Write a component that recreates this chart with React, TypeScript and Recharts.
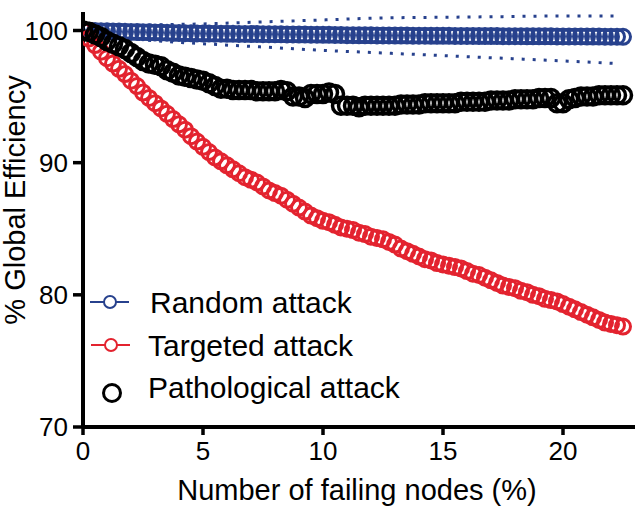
import { ComposedChart, Line, XAxis, YAxis } from "recharts";

// % of failing nodes, one reading every 0.25 %
const FAILING = [
  0, 0.25, 0.5, 0.75, 1, 1.25, 1.5, 1.75, 2, 2.25,
  2.5, 2.75, 3, 3.25, 3.5, 3.75, 4, 4.25, 4.5, 4.75,
  5, 5.25, 5.5, 5.75, 6, 6.25, 6.5, 6.75, 7, 7.25,
  7.5, 7.75, 8, 8.25, 8.5, 8.75, 9, 9.25, 9.5, 9.75,
  10, 10.25, 10.5, 10.75, 11, 11.25, 11.5, 11.75, 12, 12.25,
  12.5, 12.75, 13, 13.25, 13.5, 13.75, 14, 14.25, 14.5, 14.75,
  15, 15.25, 15.5, 15.75, 16, 16.25, 16.5, 16.75, 17, 17.25,
  17.5, 17.75, 18, 18.25, 18.5, 18.75, 19, 19.25, 19.5, 19.75,
  20, 20.25, 20.5, 20.75, 21, 21.25, 21.5, 21.75, 22, 22.25,
  22.5,
];

const RANDOM = [
  100.0, 99.98, 99.97, 99.95, 99.94, 99.93, 99.92, 99.9, 99.89, 99.88,
  99.87, 99.86, 99.85, 99.84, 99.83, 99.82, 99.81, 99.8, 99.79, 99.78,
  99.77, 99.77, 99.76, 99.76, 99.75, 99.75, 99.74, 99.74, 99.73, 99.73,
  99.72, 99.72, 99.71, 99.71, 99.7, 99.7, 99.69, 99.69, 99.68, 99.68,
  99.67, 99.67, 99.66, 99.66, 99.65, 99.65, 99.64, 99.64, 99.64, 99.63,
  99.63, 99.63, 99.62, 99.62, 99.62, 99.61, 99.61, 99.61, 99.6, 99.6,
  99.6, 99.6, 99.59, 99.59, 99.59, 99.59, 99.58, 99.58, 99.58, 99.58,
  99.57, 99.57, 99.57, 99.57, 99.56, 99.56, 99.56, 99.56, 99.56, 99.55,
  99.55, 99.55, 99.55, 99.55, 99.54, 99.54, 99.54, 99.53, 99.53, 99.53,
  99.52,
];

const TARGETED = [
  100, 99.4, 98.9, 98.4, 97.9, 97.5, 97.1, 96.7, 96.2, 95.8,
  95.3, 94.9, 94.5, 94.1, 93.7, 93.3, 92.9, 92.5, 92.0, 91.6,
  91.2, 90.8, 90.4, 90.1, 89.8, 89.5, 89.2, 88.9, 88.7, 88.5,
  88.2, 87.9, 87.7, 87.5, 87.2, 86.9, 86.6, 86.3, 86.0, 85.8,
  85.6, 85.5, 85.3, 85.1, 85.0, 84.9, 84.7, 84.6, 84.4, 84.3,
  84.2, 84.0, 83.8, 83.5, 83.3, 83.1, 82.9, 82.7, 82.6, 82.4,
  82.3, 82.2, 82.1, 82.0, 81.8, 81.6, 81.5, 81.3, 81.1, 80.9,
  80.7, 80.6, 80.5, 80.3, 80.2, 80.0, 79.9, 79.7, 79.6, 79.5,
  79.3, 79.1, 78.9, 78.7, 78.5, 78.3, 78.1, 77.9, 77.8, 77.7,
  77.6,
];

const PATHOLOGICAL = [
  100, 99.9, 99.7, 99.5, 99.2, 99.0, 98.8, 98.6, 98.3, 98.0,
  97.7, 97.5, 97.4, 97.3, 97.0, 96.8, 96.6, 96.5, 96.4, 96.3,
  96.2, 96.0, 95.8, 95.6, 95.6, 95.5, 95.5, 95.5, 95.5, 95.4,
  95.4, 95.4, 95.4, 95.5, 95.4, 95.0, 95.0, 94.9, 95.2, 95.2,
  95.2, 95.3, 95.2, 94.3, 94.3, 94.3, 94.2, 94.3, 94.3, 94.3,
  94.3, 94.3, 94.3, 94.4, 94.4, 94.4, 94.4, 94.5, 94.5, 94.5,
  94.5, 94.5, 94.5, 94.6, 94.6, 94.6, 94.6, 94.6, 94.7, 94.7,
  94.7, 94.7, 94.8, 94.8, 94.8, 94.8, 94.9, 94.9, 94.9, 94.5,
  94.5, 94.8, 94.9, 95.0, 95.0, 95.0, 95.1, 95.1, 95.1, 95.1,
  95.1,
];

// dotted envelope around the random attack curve
const BAND_X = [0, 1, 2.5, 5, 7.5, 10, 12.5, 15, 17.5, 20, 22.25];
const BAND_UPPER = [100, 100.3, 100.4, 100.5, 100.65, 100.8, 100.95, 101.0, 101.05, 101.1, 101.1];
const BAND_LOWER = [100, 99.6, 99.3, 99.0, 98.75, 98.5, 98.3, 98.1, 97.9, 97.7, 97.5];

const X_TICKS = [0, 5, 10, 15, 20];
const Y_TICKS = [70, 80, 90, 100];

const BLUE = "#27418d";
const RED = "#e3232f";
const FONT = "'Liberation Sans', Arial, Helvetica, sans-serif";

const rows = FAILING.map((x, i) => ({
  x,
  random: RANDOM[i],
  targeted: TARGETED[i],
  pathological: PATHOLOGICAL[i],
}));

const bandRows = BAND_X.map((x, i) => ({
  x,
  upper: BAND_UPPER[i],
  lower: BAND_LOWER[i],
}));

const tickStyle = { fill: "#000", fontSize: 26, fontFamily: FONT };

function Overlay() {
  return (
    <svg
      width={640}
      height={514}
      style={{ position: "absolute", left: 0, top: 0, pointerEvents: "none" }}
      fontFamily={FONT}
    >
      {/* axis titles */}
      <text x={357} y={500} fontSize={29} textAnchor="middle" fill="#000">
        Number of failing nodes (%)
      </text>
      <text
        x={25}
        y={200}
        fontSize={29}
        textAnchor="middle"
        fill="#000"
        transform="rotate(-90 25 200)"
      >
        % Global Efficiency
      </text>

      {/* legend */}
      <line x1={90} x2={129} y1={302} y2={302} stroke={BLUE} strokeWidth={2} />
      <circle cx={110} cy={302} r={6} fill="#fff" stroke={BLUE} strokeWidth={2} />
      <text x={150} y={313} fontSize={30} fill="#000">Random attack</text>

      <line x1={91} x2={130} y1={345} y2={345} stroke={RED} strokeWidth={2} />
      <circle cx={111} cy={345} r={6} fill="#fff" stroke={RED} strokeWidth={2} />
      <text x={148} y={356} fontSize={30} fill="#000">Targeted attack</text>

      <circle cx={112} cy={393} r={8.5} fill="#fff" stroke="#000" strokeWidth={3} />
      <text x={148} y={398} fontSize={30} fill="#000">Pathological attack</text>
    </svg>
  );
}

export default function App() {
  return (
    <div
      style={{
        position: "absolute",
        left: 0,
        top: 0,
        width: 640,
        height: 514,
        background: "#fff",
      }}
    >
      <ComposedChart
        width={640}
        height={514}
        data={rows}
        margin={{ top: 12, right: 5, bottom: 0, left: 0 }}
      >
        <XAxis
          type="number"
          dataKey="x"
          domain={[0, 23]}
          ticks={X_TICKS}
          height={87}
          stroke="#000"
          axisLine={{ stroke: "#000", strokeWidth: 4 }}
          tickLine={{ stroke: "#000", strokeWidth: 3.5 }}
          tickSize={8}
          tickMargin={7}
          tick={tickStyle}
          allowDataOverflow
        />
        <YAxis
          type="number"
          domain={[70, 101.4]}
          ticks={Y_TICKS}
          width={83}
          stroke="#000"
          axisLine={{ stroke: "#000", strokeWidth: 4 }}
          tickLine={{ stroke: "#000", strokeWidth: 3.5 }}
          tickSize={10}
          tickMargin={5}
          tick={tickStyle}
          allowDataOverflow
        />

        <Line
          dataKey="random"
          stroke="none"
          dot={{ r: 7.5, fill: "none", stroke: BLUE, strokeWidth: 3 }}
          activeDot={false}
          isAnimationActive={false}
        />
        <Line
          data={bandRows}
          dataKey="upper"
          type="monotone"
          stroke={BLUE}
          strokeWidth={3}
          strokeDasharray="3 8"
          dot={false}
          activeDot={false}
          isAnimationActive={false}
        />
        <Line
          data={bandRows}
          dataKey="lower"
          type="monotone"
          stroke={BLUE}
          strokeWidth={3}
          strokeDasharray="3 8"
          dot={false}
          activeDot={false}
          isAnimationActive={false}
        />
        <Line
          dataKey="targeted"
          stroke="none"
          dot={{ r: 7.5, fill: "none", stroke: RED, strokeWidth: 3 }}
          activeDot={false}
          isAnimationActive={false}
        />
        <Line
          dataKey="pathological"
          stroke="none"
          dot={{ r: 8.5, fill: "none", stroke: "#000", strokeWidth: 3.5 }}
          activeDot={false}
          isAnimationActive={false}
        />
      </ComposedChart>
      <Overlay />
    </div>
  );
}
